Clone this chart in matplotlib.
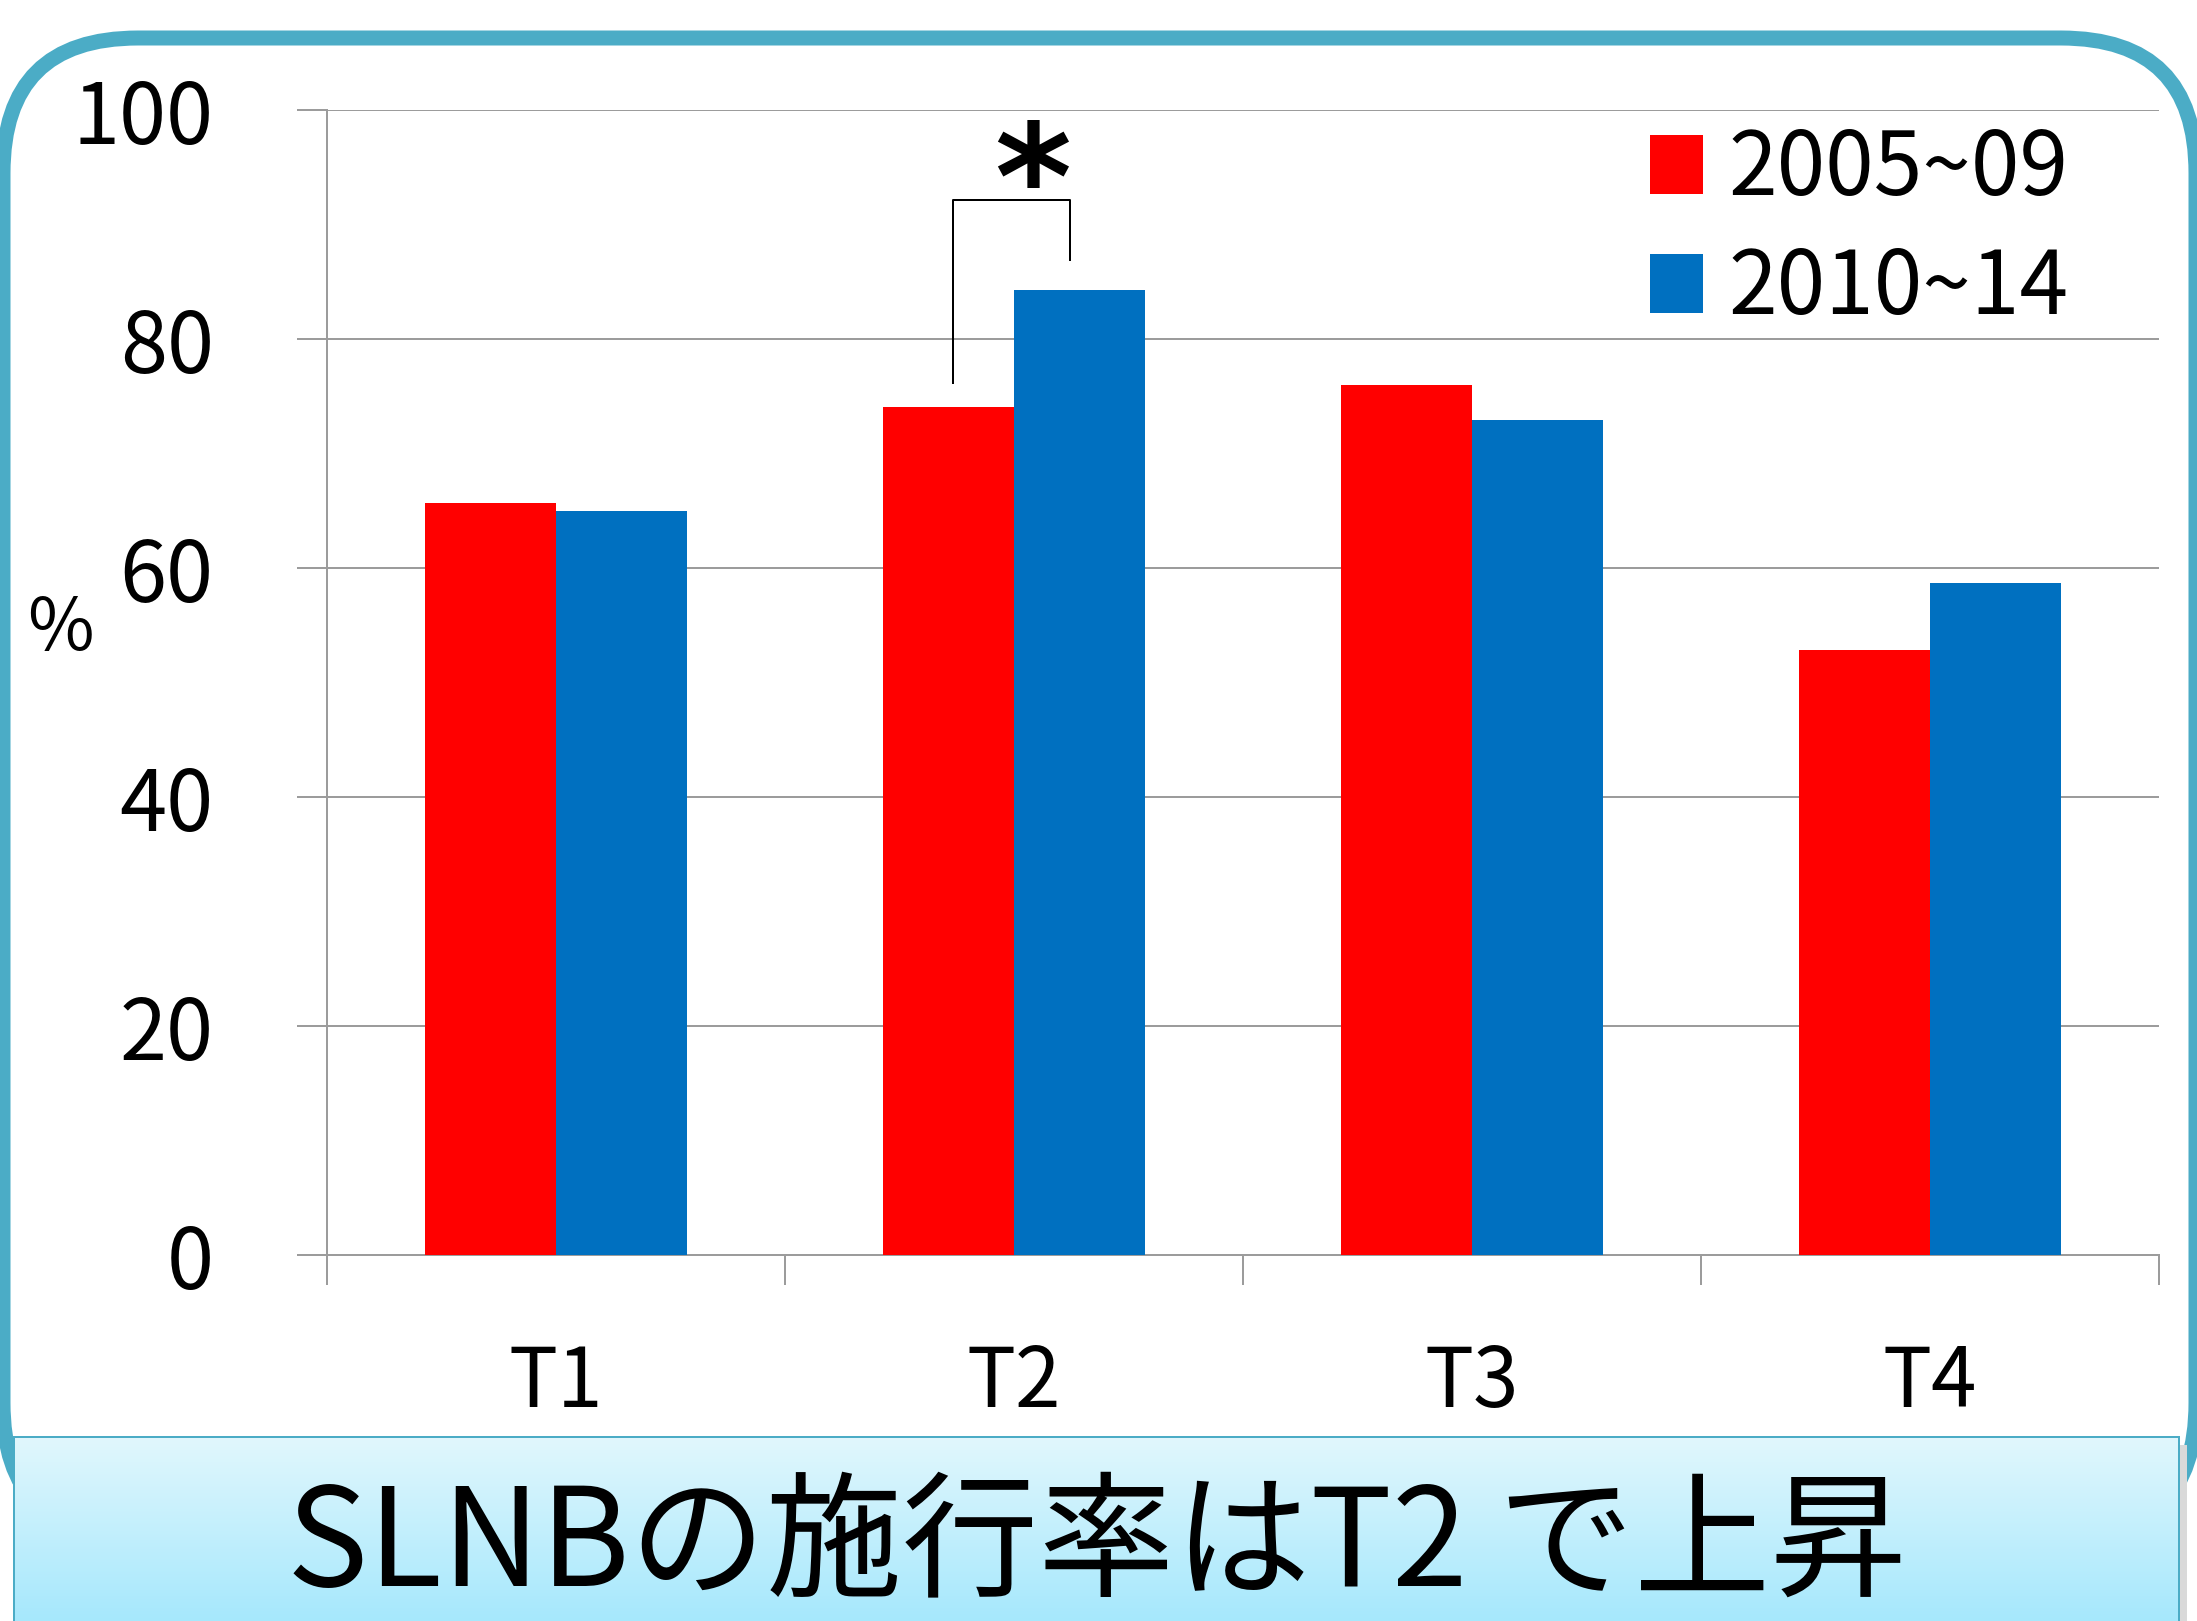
import matplotlib
matplotlib.use("Agg")
import matplotlib.pyplot as plt
import numpy as np
from matplotlib.patches import FancyBboxPatch, Rectangle

plt.rcParams['font.family'] = ['Noto Sans CJK JP', 'DejaVu Sans']

# データ
categories = ['T1', 'T2', 'T3', 'T4']
period_labels = ['2005~09', '2010~14']
rate_2005_09 = [65.7, 74.1, 76.0, 52.8]
rate_2010_14 = [65.0, 84.3, 72.9, 58.7]
yticks = [0, 20, 40, 60, 80, 100]

RED = '#FF0000'
BLUE = '#0070C0'
GRID = '#9C9C9C'
TEAL = '#4BACC6'

W, H = 2197, 1621
fig = plt.figure(figsize=(W / 100, H / 100), dpi=100)
PX = 72 / 100  # 1ピクセル = 0.72pt

# 背景の角丸枠（ピクセル座標）
bg = fig.add_axes([0, 0, 1, 1], zorder=0)
bg.set_xlim(0, W)
bg.set_ylim(H, 0)
bg.axis('off')
bg.add_patch(FancyBboxPatch((3, 38), 2193, 1500,
                            boxstyle='round,pad=0,rounding_size=135',
                            facecolor='white', edgecolor=TEAL, linewidth=15 * PX))
# バナーの影
bg.add_patch(Rectangle((2179, 1445), 8, 200, facecolor='#D9D9D9', edgecolor='none'))

# 棒グラフ
ax = fig.add_axes([327 / W, 1 - 1255 / H, 1832 / W, 1145 / H], zorder=1)
ax.set_facecolor('none')
x = np.arange(len(categories))
width = 0.286
bars_a = ax.bar(x - width / 2, rate_2005_09, width, color=RED, label=period_labels[0], zorder=3)
bars_b = ax.bar(x + width / 2, rate_2010_14, width, color=BLUE, label=period_labels[1], zorder=3)

ax.set_xlim(-0.5, len(categories) - 0.5)
ax.set_ylim(0, 100)
ax.set_yticks(yticks)
ax.set_yticklabels([str(v) for v in yticks], fontsize=61)
ax.yaxis.grid(True, color=GRID, linewidth=2 * PX, zorder=0)
ax.tick_params(axis='y', length=30 * PX, width=2 * PX, color=GRID, pad=60)

ax.set_xticks(x)
ax.set_xticklabels(categories, fontsize=59)
ax.set_xticks(np.arange(len(categories) + 1) - 0.5, minor=True)
ax.tick_params(axis='x', which='major', length=0, pad=62)
ax.tick_params(axis='x', which='minor', length=30 * PX, width=2 * PX, color=GRID)

for side in ['top', 'right']:
    ax.spines[side].set_visible(False)
for side in ['left', 'bottom']:
    ax.spines[side].set_color(GRID)
    ax.spines[side].set_linewidth(2 * PX)

fig.text(60 / W, 1 - 630 / H, '%', fontsize=52, ha='center', va='center')

# 有意差の括弧とアスタリスク
x_left = x[1] - width / 2 + 0.01
x_right = x[1] + width / 2 - 0.02
y_top = 92.1
ax.plot([x_left, x_left, x_right, x_right],
        [rate_2005_09[1] + 2.1, y_top, y_top, rate_2010_14[1] + 2.6],
        color='black', linewidth=2 * PX, zorder=4, clip_on=False)
ax.text(1.04, 89.6, '*', fontsize=106, fontweight='bold', family='DejaVu Sans',
        ha='center', va='baseline', zorder=4)

# 凡例
ax.legend(loc='upper left', bbox_to_anchor=((1650 - 327) / 1832, 1 - (125 - 110) / 1145),
          frameon=False, fontsize=63, handlelength=0.6, handleheight=0.66,
          handletextpad=0.3, labelspacing=0.33, borderpad=0, borderaxespad=0)

# 下部のバナー
ban = fig.add_axes([14 / W, 0, 2165 / W, (H - 1437) / H], zorder=2)
grad = np.linspace(0, 1, 256).reshape(-1, 1)
top_c = np.array([0xE1, 0xF7, 0xFD]) / 255
bot_c = np.array([0xA6, 0xE8, 0xFC]) / 255
img = top_c[None, None, :] * (1 - grad[:, :, None]) + bot_c[None, None, :] * grad[:, :, None]
ban.imshow(img, extent=[0, 1, 0, 1], aspect='auto')
ban.set_xlim(0, 1)
ban.set_ylim(0, 1)
ban.set_xticks([])
ban.set_yticks([])
for side in ['top', 'left', 'right']:
    ban.spines[side].set_color(TEAL)
    ban.spines[side].set_linewidth(2 * PX)
ban.spines['bottom'].set_visible(False)
ban.text(0.5, 0.196, 'SLNBの施行率はT2 で上昇', fontsize=98, ha='center', va='baseline')

fig.savefig('out.png', dpi=100)
